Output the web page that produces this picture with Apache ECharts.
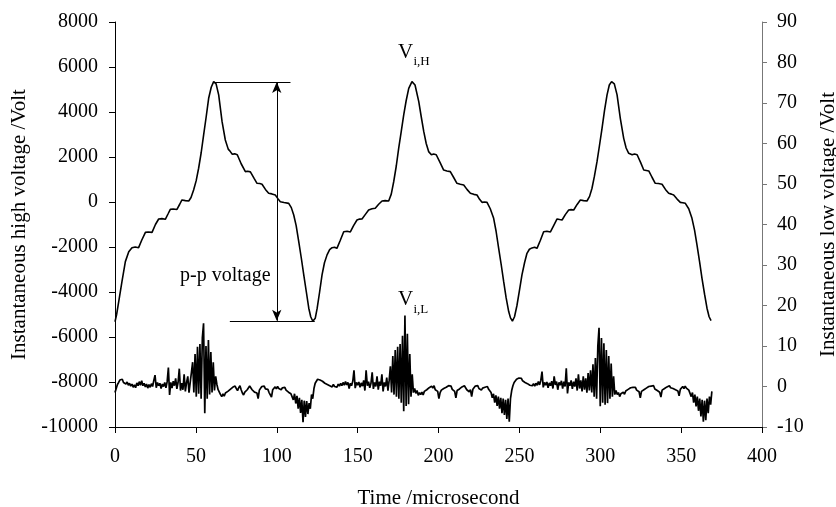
<!DOCTYPE html>
<html>
<head>
<meta charset="utf-8">
<script src="https://cdn.jsdelivr.net/npm/echarts@6/dist/echarts.min.js"></script>
<style>
html,body{margin:0;padding:0;background:#fff;}
#chart{width:836px;height:507px;}
</style>
</head>
<body>
<div id="chart"></div>
<script>
// ---- Data ----
const xTicks = [0, 50, 100, 150, 200, 250, 300, 350, 400];
const leftTicks = [-10000, -8000, -6000, -4000, -2000, 0, 2000, 4000, 6000, 8000];
const rightTicks = [-10, 0, 10, 20, 30, 40, 50, 60, 70, 80, 90];

// Instantaneous high voltage (Volt) vs time (microsecond): [t, V]
const highVoltage = [
[0,-5320],[1,-5000],[2.3,-4430],[4.3,-3540],[6.4,-2650],[8.5,-2210],[10.5,-2030],[12.5,-2000],[14.6,-2030],[16.5,-1700],
[18.8,-1350],[20.5,-1330],[22.9,-1350],[25,-1000],[27,-755],[29,-740],[31.1,-770],[33,-500],[34.2,-325],[36,-310],
[38.3,-330],[40,-100],[41.4,90],[43.5,60],[45.6,45],[47,200],[48.6,535],[50.2,950],[51.7,1500],[53.3,2200],
[54.8,2980],[56.4,3800],[57.9,4610],[59.5,5100],[61,5350],[62.5,5250],[64.1,4760],[66.2,3570],[68.2,2756],[70,2350],
[71.3,2240],[72.5,2120],[74,2140],[75.6,2100],[78,1700],[80.6,1350],[82,1370],[83.7,1340],[86,1050],[87.8,830],
[89.5,820],[90.9,790],[93,560],[95,390],[97,360],[99.1,310],[100.7,150],[102.2,15],[104.5,-20],[107.4,-60],
[109,-250],[110.5,-580],[112,-1050],[113.6,-1760],[115.2,-2500],[116.7,-3240],[118.3,-4000],[119.8,-4720],[121,-5100],[122.3,-5300],
[123.8,-5170],[125,-4720],[126.5,-4000],[128,-3240],[129.5,-2700],[131.1,-2350],[132.7,-2120],[134.2,-2030],[135.7,-2010],[137.2,-2060],
[139.3,-1700],[141.4,-1320],[143.5,-1300],[145.5,-1330],[147.5,-1050],[149.6,-800],[151.2,-760],[152.7,-755],[154.8,-550],[156.8,-355],
[158.9,-300],[160.9,-280],[163,-100],[165.1,45],[167,60],[169.2,45],[170.8,350],[172.3,900],[173.9,1600],[175.4,2390],
[177,3150],[178.5,3870],[180,4500],[181.6,5050],[183.6,5350],[185.5,5200],[187.8,4460],[189.3,3800],[190.9,3125],[192.4,2600],
[193.9,2240],[195.6,2100],[197,2130],[198.6,2100],[201,1750],[203.2,1420],[205.2,1380],[207.3,1350],[209.3,1100],[211.4,830],
[213.5,790],[215.6,755],[217.6,560],[219.7,390],[221.8,340],[223.8,310],[225.4,120],[226.9,-15],[228.5,0],[230,-15],
[232,-300],[234.1,-725],[235.6,-1300],[237.2,-2060],[238.8,-2800],[240.3,-3540],[241.8,-4250],[243.4,-4870],[244.5,-5150],[245.7,-5290],
[247,-5100],[248.5,-4600],[250,-3950],[251.6,-3240],[253.2,-2700],[254.7,-2280],[256.2,-2100],[257.8,-2040],[259.4,-2010],[260.9,-2060],
[263,-1700],[265,-1320],[267,-1300],[269.2,-1330],[271.2,-1050],[273.3,-755],[274.9,-780],[276.4,-800],[278.5,-550],[280.5,-355],
[282,-340],[283.6,-355],[285.6,-120],[287.7,90],[289.7,60],[291.8,45],[293.4,250],[294.9,610],[296.4,1150],[298,1790],
[299.5,2500],[301.1,3275],[302.6,4050],[304.2,4760],[305.6,5200],[307,5350],[308.7,5250],[310.4,4760],[312.4,3720],[314.5,2830],
[316,2400],[317.6,2165],[319.7,2100],[321.2,2130],[322.8,2100],[325,1750],[326.9,1420],[328.5,1400],[330,1380],[332,1100],
[334,830],[336,820],[338.2,790],[340.3,560],[342.3,390],[344,350],[345.4,310],[347.5,130],[349.5,-15],[351,-30],
[352.6,-60],[354.7,-300],[356.7,-725],[358.3,-1250],[359.8,-1910],[361.4,-2650],[362.9,-3390],[364.5,-4100],[366,-4720],[367.3,-5100],
[368.5,-5270]
];

// Instantaneous low voltage (Volt), sampled every lowStep microseconds from t = 0
const lowStep = 0.75;
const lowVoltage = [
// 0 - 47.25
-1.5,-0.5,0.5,1.0,1.6,1.2,1.8,1.0,1.4,0.6,1.1,0.3,0.8,0.1,0.6,-0.2,0.4,-0.3,0.9,0.2,
1.2,0.3,1.4,0.2,0.8,-0.1,0.6,-0.4,0.5,-0.2,0.7,0.0,1.5,2.8,-0.3,1.0,0.2,0.8,-0.5,0.6,
0.0,1.0,-0.3,1.2,4.7,-2.1,1.0,-0.4,1.3,0.2,2.0,-0.6,1.0,4.4,-1.0,0.8,-0.8,3.0,-1.2,1.0,
2.5,-1.5,1.0,3.5,
// burst 1
6,-1.5,8,-2.5,9.8,-1.8,10.5,-3,12,15.6,-6.6,10,-3,11.5,-2,8.5,-1.5,6,-1,2.5,
// 63 - 108.75
0.5,-0.8,-1.2,-2.0,-2.5,-1.8,-2.4,-1.6,-2.0,-1.2,-1.5,-0.7,-0.9,-0.2,-0.6,0.1,-0.5,-1.0,-0.3,0.2,
-0.8,-1.6,-2.1,-1.4,-1.8,-0.8,-0.6,0.1,-0.2,-0.8,-0.5,-1.4,-1.0,-1.6,-3.0,-0.9,-0.6,0.0,-0.3,0.1,
-0.6,-1.0,-0.7,-1.5,-1.2,-2.6,-0.8,-0.4,-0.1,-0.6,0.0,-0.5,-0.2,-0.8,-0.3,-0.6,-0.2,-0.9,-0.7,-1.4,
-1.0,-1.8,
// dip 1
-1.5,-3.3,-1.8,-4.2,-2.3,-5.5,-2.8,-6.5,-3.3,-8.8,-3.5,-7.5,-3.6,-6.8,-4.1,-5.5,-2.0,-3.0,
// 123 - 169.5
-0.5,0.8,1.2,1.8,2.2,1.6,2.0,1.3,1.5,0.8,1.2,0.5,0.9,0.2,0.6,-0.1,0.5,0.0,0.4,-0.2,
0.6,0.1,0.8,0.2,1.0,0.3,1.2,0.4,1.0,-0.5,0.8,0.2,1.3,4.0,-0.4,1.0,0.3,1.1,-0.2,0.9,
0.1,1.5,-1.0,4.0,0.2,1.2,-0.3,0.8,3.5,-0.6,1.0,0.0,2.5,-0.8,1.2,0.2,3.0,-1.2,1.0,0.0,
2.2,-1.0,1.5,
// burst 2
5.0,-1.5,7.5,-2.0,9.0,-2.5,9.8,-3.0,10.5,-4.0,12.5,-6.1,17.5,-4.8,13.0,-4.4,8.0,-2.5,3.0,-1.5,
// 185.25 - 231.75
-0.5,-1.7,-1.0,-2.2,-1.5,-2.0,-1.4,-2.1,-1.2,-1.5,-0.8,-1.0,-0.3,-0.6,0.1,-0.4,0.2,-0.8,-0.4,-1.2,
-3.0,-1.5,-0.9,-1.3,-0.5,-0.8,-0.2,-0.4,0.2,-0.2,0.1,-0.7,-0.4,-1.2,-2.8,-1.0,-1.4,-0.6,-0.9,-0.1,
-0.4,0.2,-0.3,-0.8,-0.5,-1.3,-0.8,-2.5,-0.7,-0.4,0.1,-0.3,0.2,-0.5,-0.2,-0.9,-0.4,-0.8,-0.2,-0.6,
0.0,-0.7,-0.3,
// dip 2
-1.5,-2.8,-1.8,-4.0,-2.2,-4.8,-2.5,-5.5,-2.8,-6.6,-3.0,-7.0,-3.3,-8.0,-3.0,-8.7,-3.0,-1.0,
// 246 - 292.5
0.2,1.0,1.2,1.8,1.5,2.1,1.8,2.0,1.4,1.6,1.0,1.3,0.7,0.9,0.3,0.6,0.2,0.7,0.1,0.8,
0.3,1.2,0.4,1.5,3.7,-0.2,1.0,0.3,1.1,-0.3,0.9,0.2,1.3,-0.5,2.5,0.4,1.2,-0.8,1.0,0.3,
1.4,-0.5,1.2,0.0,4.5,-1.7,1.0,0.2,1.5,-0.6,1.2,0.0,2.0,-1.0,3.0,-0.5,1.5,-1.2,2.5,-0.8,
2.0,-1.5,3.3,
// burst 3
-1.0,4.0,-1.5,5.5,-2.5,7.0,-3.0,10.0,14.5,-4.9,12.0,-4.0,10.7,-4.5,9.0,-4.1,7.5,-3.0,5.7,-2.5,
2.5,-2.0,
// 309.75 - 354.75
-1.0,-2.0,-1.5,-2.5,-1.8,-2.2,-1.4,-1.9,-1.1,-1.4,-0.7,-1.0,-0.3,-0.7,-0.2,-0.6,-0.2,-0.9,-0.5,-1.3,
-2.8,-1.2,-1.6,-0.8,-1.1,-0.4,-0.7,0.0,-0.4,0.1,-0.3,0.2,-0.6,-0.3,-1.0,-0.6,-1.4,-2.6,-0.9,-1.2,
-0.5,-0.8,-0.1,-0.4,0.2,-0.3,0.1,-0.5,-0.1,-0.8,-0.4,-1.1,-2.3,-0.7,-0.3,0.0,-0.5,0.1,-0.4,-0.2,
-0.9,
// dip 3
-1.0,-2.5,-1.5,-4.0,-2.0,-4.9,-2.5,-6.0,-3.0,-7.4,-3.3,-8.7,-3.5,-8.3,-3.0,-6.6,-2.5,-4.5,-1.2
];

// Annotation anchors (data coordinates)
const ppTop = 5330, ppBottom = -5280, ppTime = 100;
const ppTopLine = [61.5, 108.5];
const ppBottomLine = [71, 123.5];

// ---- Chart ----
const FONT = '"Liberation Serif", "DejaVu Serif", serif';
const lowSeries = lowVoltage.map((v, i) => [i * lowStep, v]);

const chart = echarts.init(document.getElementById('chart'), null, {renderer: 'canvas'});

const option = {
  animation: false,
  backgroundColor: '#fff',
  textStyle: {fontFamily: FONT, color: '#000'},
  grid: {left: 115, right: 74, top: 22, bottom: 80, containLabel: false, outerBoundsMode: 'none'},
  xAxis: {
    type: 'value', min: xTicks[0], max: xTicks[xTicks.length - 1], interval: 50,
    name: 'Time /microsecond', nameLocation: 'middle', nameGap: 61,
    nameTextStyle: {fontFamily: FONT, fontSize: 21, color: '#000'},
    axisLine: {show: true, onZero: false, lineStyle: {color: '#000', width: 1}},
    axisTick: {show: true, length: 6, lineStyle: {color: '#000'}},
    axisLabel: {fontFamily: FONT, fontSize: 20, color: '#000', margin: 20},
    splitLine: {show: false}
  },
  yAxis: [
    {
      type: 'value', position: 'left', min: leftTicks[0], max: leftTicks[leftTicks.length - 1], interval: 2000,
      name: 'Instantaneous high voltage /Volt', nameLocation: 'middle', nameGap: 84,
      nameTextStyle: {fontFamily: FONT, fontSize: 21, color: '#000'},
      axisLine: {show: true, onZero: false, lineStyle: {color: '#000', width: 1}},
      axisTick: {show: true, length: 6, lineStyle: {color: '#000'}},
      axisLabel: {fontFamily: FONT, fontSize: 20, color: '#000', margin: 17, formatter: v => String(v)},
      splitLine: {show: false}
    },
    {
      type: 'value', position: 'right', min: rightTicks[0], max: rightTicks[rightTicks.length - 1], interval: 10,
      name: 'Instantaneous low voltage /Volt', nameLocation: 'middle', nameGap: 56,
      nameTextStyle: {fontFamily: FONT, fontSize: 21, color: '#000'},
      axisLine: {show: true, onZero: false, lineStyle: {color: '#777', width: 1}},
      axisTick: {show: true, length: 5, lineStyle: {color: '#777'}},
      axisLabel: {fontFamily: FONT, fontSize: 20, color: '#000', margin: 15, formatter: v => String(v)},
      splitLine: {show: false}
    }
  ],
  series: [
    {
      name: 'Vi,H', type: 'line', yAxisIndex: 0, data: highVoltage,
      showSymbol: false, symbol: 'none', smooth: false,
      lineStyle: {color: '#000', width: 1.6},
      markLine: {
        silent: true, animation: false,
        label: {show: false},
        lineStyle: {color: '#000', width: 1, type: 'solid'},
        data: [
          [{coord: [ppTopLine[0], ppTop], symbol: 'none'}, {coord: [ppTopLine[1], ppTop], symbol: 'none'}],
          [{coord: [ppBottomLine[0], ppBottom], symbol: 'none'}, {coord: [ppBottomLine[1], ppBottom], symbol: 'none'}],
          [{coord: [ppTime, ppTop], symbol: 'arrow', symbolSize: [7, 11]}, {coord: [ppTime, ppBottom], symbol: 'arrow', symbolSize: [7, 11]}]
        ]
      }
    },
    {
      name: 'Vi,L', type: 'line', yAxisIndex: 1, data: lowSeries,
      showSymbol: false, symbol: 'none', smooth: false, sampling: null,
      lineStyle: {color: '#000', width: 1.7}
    }
  ]
};
chart.setOption(option);

// Text annotations placed from data coordinates
function px(t, v, axis) {
  return chart.convertToPixel({xAxisIndex: 0, yAxisIndex: axis}, [t, v]);
}
const pH = px(175, 6650, 0), pHs = px(184.5, 6250, 0);
const pL = px(175, -4350, 0), pLs = px(184.5, -4760, 0);
const pPP = px(40.2, -3290, 0);
const txt = (p, s, size) => ({
  type: 'text', x: p[0], y: p[1], silent: true,
  style: {text: s, fontFamily: FONT, fontSize: size, fill: '#000', align: 'left', verticalAlign: 'middle'}
});
chart.setOption({
  graphic: [
    txt(pH, 'V', 21), txt(pHs, 'i,H', 13),
    txt(pL, 'V', 21), txt(pLs, 'i,L', 13),
    txt(pPP, 'p-p voltage', 20)
  ]
});
</script>
</body>
</html>
